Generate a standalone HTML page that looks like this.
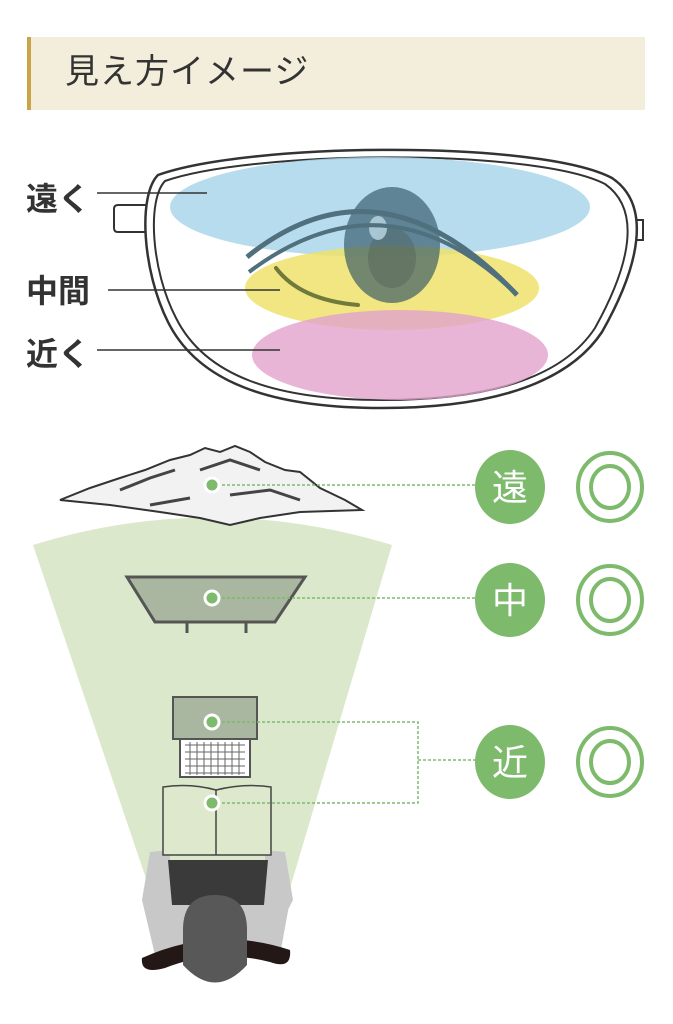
<!DOCTYPE html>
<html><head><meta charset="utf-8"><style>
body{margin:0;background:#fff;width:673px;height:1024px;overflow:hidden;font-family:"Liberation Sans","Noto Sans CJK JP",sans-serif}
.hd{position:absolute;left:27px;top:37px;width:618px;height:73px;background:#f3eedb;border-left:4px solid #c9a54a;box-sizing:border-box}
.hd span{position:absolute;left:34px;top:15px;font-size:34px;color:#333;letter-spacing:1px;line-height:40px}
</style></head><body>
<div class="hd"><span>見え方イメージ</span></div>
<svg width="673" height="1024" style="position:absolute;left:0;top:0" font-family="Liberation Sans, Noto Sans CJK JP, sans-serif">
<!-- glasses -->
<path d="M118 205 h34 v27 h-34 q-4 0-4-4 v-19 q0-4 4-4z" fill="#fff" stroke="#333" stroke-width="2"/>
<path d="M615 220 h28 v20 h-28z" fill="#fff" stroke="#333" stroke-width="2"/>
<path d="M158 175 C250 142 540 140 612 178 C652 205 640 265 602 332 C562 392 470 408 382 408 C270 408 198 382 168 322 C142 270 138 195 158 175Z" fill="#fff" stroke="#333" stroke-width="2.5"/>
<path d="M165 181 C255 150 535 148 605 184 C642 210 630 265 595 328 C557 386 468 400 382 400 C275 400 205 376 176 318 C151 270 147 200 165 181Z" fill="none" stroke="#333" stroke-width="2"/>
<ellipse cx="380" cy="207" rx="210" ry="50" fill="#a9d6ea" opacity=".85"/>
<ellipse cx="392" cy="288" rx="147" ry="42" fill="#eee26b" opacity=".85"/>
<ellipse cx="400" cy="355" rx="148" ry="45" fill="#e2a2cc" opacity=".8"/>
<ellipse cx="392" cy="245" rx="48" ry="58" fill="#2f5466" opacity=".65"/>
<ellipse cx="392" cy="258" rx="24" ry="30" fill="#4a5a50" opacity=".35"/>
<ellipse cx="378" cy="228" rx="9" ry="12" fill="#b5d2de" opacity=".85"/>
<path d="M247 257 Q380 150 517 295" fill="none" stroke="#50707e" stroke-width="5"/>
<path d="M249 272 Q385 170 512 290" fill="none" stroke="#50707e" stroke-width="4"/>
<path d="M276 268 Q300 300 358 305" fill="none" stroke="#707a3a" stroke-width="4" stroke-linecap="round"/>
<g font-size="32" font-weight="bold" fill="#333"><text x="26" y="210">遠く</text><text x="26" y="302">中間</text><text x="26" y="365">近く</text></g>
<g stroke="#333" stroke-width="1.5"><line x1="97" y1="193" x2="207" y2="193"/><line x1="108" y1="290" x2="280" y2="290"/><line x1="97" y1="350" x2="280" y2="350"/></g>
<!-- cone -->
<path d="M33 545 Q210 490 392 545 L285 905 L155 905Z" fill="#dbe8cc"/>
<!-- mountains -->
<path d="M60 500 L90 488 L120 478 L145 470 L170 460 L190 455 L205 448 L220 452 L235 446 L250 452 L265 462 L285 470 L300 472 L320 488 L345 500 L362 510 L300 512 L260 518 L230 525 L200 518 L160 512 L110 505Z" fill="#f2f2f2" stroke="#333" stroke-width="2"/>
<path d="M120 490 L150 478 L175 470 M200 470 L230 460 L260 470 M230 495 L270 490 L300 500 M150 505 L190 498" stroke="#444" stroke-width="3" fill="none"/>
<!-- monitor -->
<path d="M127 577 H305 L275 622 H155Z" fill="#aab7a0" stroke="#555" stroke-width="3"/>
<line x1="187" y1="622" x2="187" y2="633" stroke="#555" stroke-width="3"/><line x1="246" y1="622" x2="246" y2="633" stroke="#555" stroke-width="3"/>
<!-- laptop -->
<rect x="173" y="697" width="84" height="42" fill="#aab7a0" stroke="#555" stroke-width="2"/>
<rect x="180" y="739" width="70" height="38" fill="#fff" stroke="#555" stroke-width="2"/>
<path d="M185 745 h60 M185 752 h60 M185 759 h60 M185 766 h60 M185 773 h60" stroke="#666" stroke-width="1"/>
<path d="M190 742v33M197 742v33M204 742v33M211 742v33M218 742v33M225 742v33M232 742v33M239 742v33" stroke="#666" stroke-width="1"/>
<!-- person -->
<path d="M150 852 L170 850 V935 H160 L142 900Z" fill="#c8c8c8"/>
<path d="M285 852 L265 850 V935 H275 L293 900Z" fill="#c8c8c8"/>
<path d="M160 860 H275 L290 900 L280 955 H155 L142 900Z" fill="#c8c8c8"/>
<path d="M168 860 H268 L264 905 H172Z" fill="#3a3a3a"/>
<path d="M142 958 Q215 925 290 950 Q292 970 270 962 Q215 948 165 968 Q140 975 142 958Z" fill="#231815"/>
<path d="M183 930 Q183 895 215 895 Q247 895 247 930 V965 Q215 1000 183 965Z" fill="#585858"/>
<!-- book -->
<path d="M163 787 Q190 783 216 790 Q245 783 271 787 V855 H163Z" fill="#dde8cc" stroke="#444" stroke-width="1.5"/>
<line x1="216" y1="790" x2="216" y2="855" stroke="#444" stroke-width="1.5"/>
<!-- connectors -->
<g stroke="#7dba6c" stroke-width="1.5" stroke-dasharray="3 2" fill="none">
<line x1="212" y1="485" x2="475" y2="485"/><line x1="212" y1="598" x2="475" y2="598"/>
<path d="M212 722 H418 V803 H212 M418 760 H475"/></g>
<g fill="#7dba6c" stroke="#fff" stroke-width="3"><circle cx="212" cy="485" r="7"/><circle cx="212" cy="598" r="7"/><circle cx="212" cy="722" r="7"/><circle cx="212" cy="803" r="7"/></g>
<g fill="#7dba6c"><ellipse cx="510" cy="487" rx="35" ry="37"/><ellipse cx="510" cy="600" rx="35" ry="37"/><ellipse cx="510" cy="762" rx="35" ry="37"/></g>
<g fill="#fff" font-size="36" text-anchor="middle"><text x="510" y="500">遠</text><text x="510" y="613">中</text><text x="510" y="775">近</text></g>
<g fill="none" stroke="#7dba6c" stroke-width="4"><ellipse cx="610" cy="487" rx="32" ry="34"/><ellipse cx="610" cy="487" rx="19" ry="21"/><ellipse cx="610" cy="600" rx="32" ry="34"/><ellipse cx="610" cy="600" rx="19" ry="21"/><ellipse cx="610" cy="762" rx="32" ry="34"/><ellipse cx="610" cy="762" rx="19" ry="21"/></g>
</svg>
</body></html>
